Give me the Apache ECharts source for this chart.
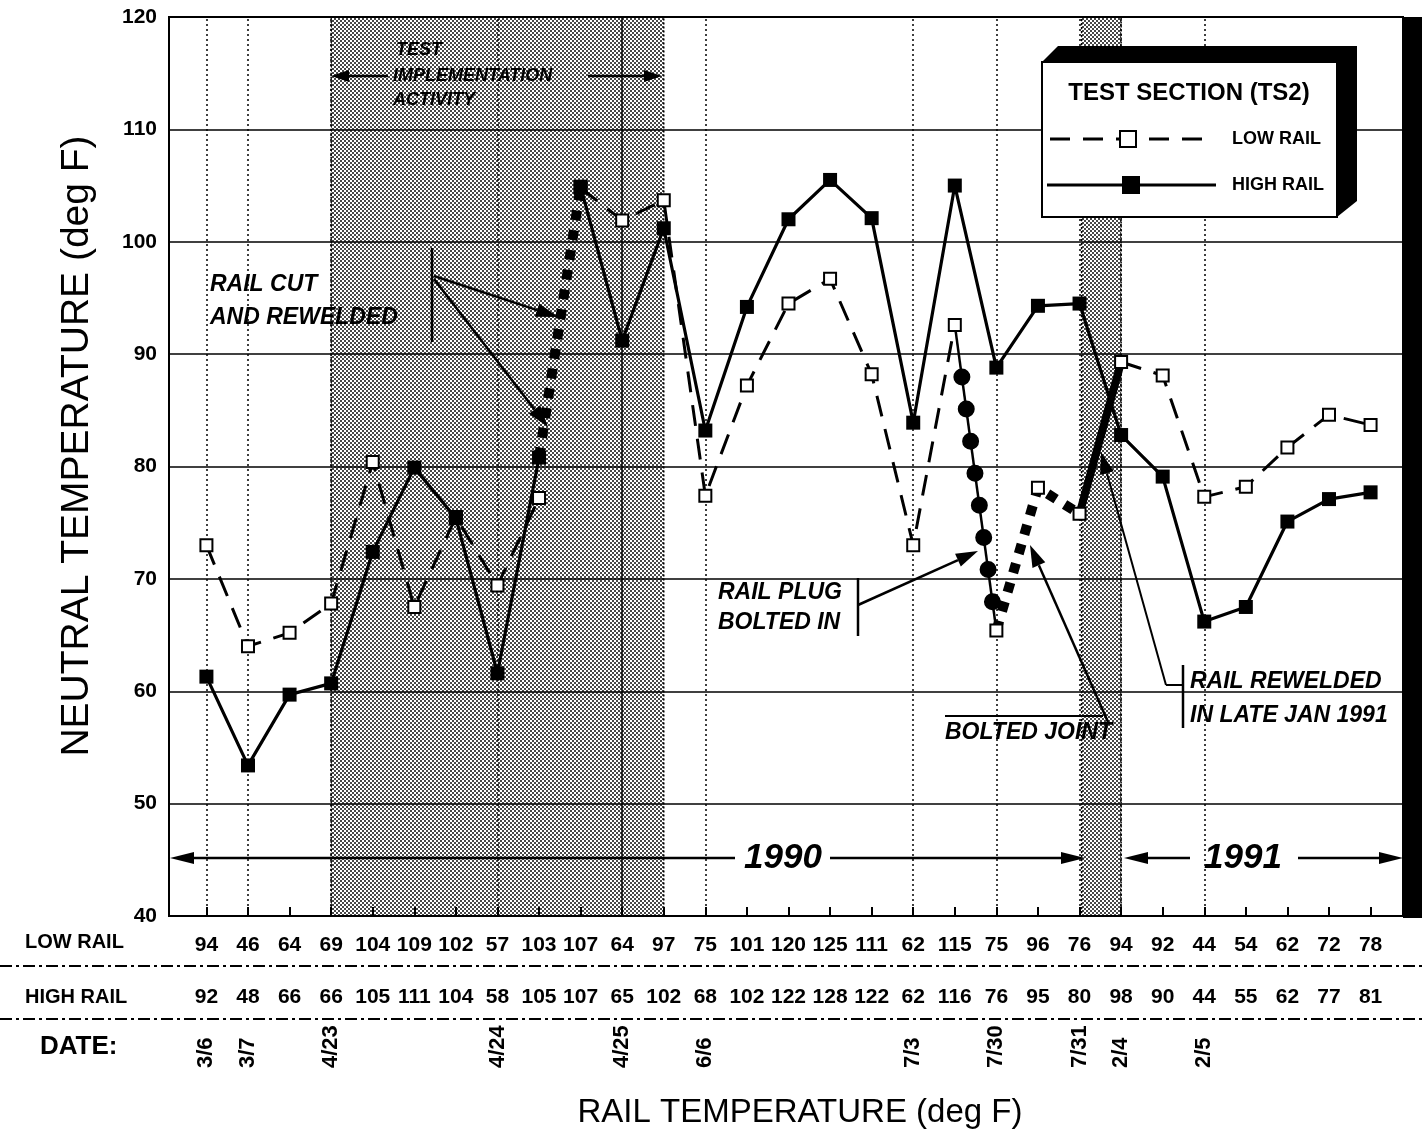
<!DOCTYPE html>
<html>
<head>
<meta charset="utf-8">
<script src="https://cdn.jsdelivr.net/npm/echarts@6/dist/echarts.min.js"></script>
<style>
  html, body { margin: 0; padding: 0; background: #fff; }
  #chart { width: 1422px; height: 1141px; }
</style>
</head>
<body>
<div id="chart"></div>
<script>
// Rail temperature (deg F) at each reading, printed under the plot
const lowRailTemp  = [94, 46, 64, 69, 104, 109, 102, 57, 103, 107, 64, 97, 75, 101, 120, 125, 111, 62, 115, 75, 96, 76, 94, 92, 44, 54, 62, 72, 78];
const highRailTemp = [92, 48, 66, 66, 105, 111, 104, 58, 105, 107, 65, 102, 68, 102, 122, 128, 122, 62, 116, 76, 95, 80, 98, 90, 44, 55, 62, 77, 81];

// Neutral temperature (deg F) at each reading
const lowRailNeutral  = [73.0, 64.0, 65.2, 67.8, 80.4, 67.5, 75.5, 69.4, 77.2, 104.8, 101.9, 103.7, 77.4, 87.2, 94.5, 96.7, 88.2, 73.0, 92.6, 65.4, 78.1, 75.8, 89.3, 88.1, 77.3, 78.2, 81.7, 84.6, 83.7];
const highRailNeutral = [61.3, 53.4, 59.7, 60.7, 72.4, 79.9, 75.4, 61.6, 80.8, 104.9, 91.2, 101.2, 83.2, 94.2, 102.0, 105.5, 102.1, 83.9, 105.0, 88.8, 94.3, 94.5, 82.8, 79.1, 66.2, 67.5, 75.1, 77.1, 77.7];

// Test dates and the reading each one starts at (readings are numbered from 1)
const dateLabels = ['3/6', '3/7', '4/23', '4/24', '4/25', '6/6', '7/3', '7/30', '7/31', '2/4', '2/5'];
const dateIndex  = [1, 2, 4, 8, 11, 13, 18, 20, 22, 23, 25];

// Event spans, in reading numbers
const testActivitySpan = [4, 12];
const reweldWindow     = [22.05, 23];
const railCutSpan      = [9, 10];   // high rail, cut and rewelded
const plugSpan         = [19, 20];  // low rail, plug bolted in
const jointSpan        = [20, 22];  // low rail, bolted joint
const reweldSpan       = [22, 23];  // low rail, rewelded Jan 1991

const readingNo = lowRailTemp.map((_, k) => k + 1);
const pts = (vals, a, b) => { const out = []; for (let i = a; i <= b; i++) out.push([i, vals[i - 1]]); return out; };

const FONT = '"Liberation Sans", Arial, Helvetica, sans-serif';
const INK = '#000';

// fine halftone used for the shaded periods
const pat = document.createElement('canvas');
pat.width = 4; pat.height = 4;
const pc = pat.getContext('2d');
pc.fillStyle = 'rgba(0,0,0,0.72)';
pc.fillRect(0, 0, 2, 2);
pc.fillRect(2, 2, 2, 2);

const chart = echarts.init(document.getElementById('chart'), null, { renderer: 'canvas' });

const line = (name, data, style, z) => ({
  name, type: 'line', data, showSymbol: false, silent: true, animation: false, z: z || 3,
  lineStyle: Object.assign({ color: INK, width: 3 }, style)
});

const dashed = { type: [21, 13], width: 3 };
const diamonds = { type: [10, 10], width: 10, cap: 'butt' };

const option = {
  animation: false,
  backgroundColor: '#fff',
  grid: { left: 169, right: 19, top: 17, bottom: 225, show: true, borderColor: INK, borderWidth: 2, backgroundColor: '#fff' },
  xAxis: {
    type: 'value', min: 0.1, max: 29.78,
    axisLine: { show: true, lineStyle: { color: INK, width: 2 } },
    axisTick: { show: true, inside: true, length: 9, customValues: readingNo, lineStyle: { color: INK, width: 2 } },
    axisLabel: { show: false },
    splitLine: { show: false }
  },
  yAxis: {
    type: 'value', min: 40, max: 120, interval: 10,
    axisLine: { show: true, lineStyle: { color: INK, width: 2 } },
    axisTick: { show: false },
    axisLabel: { color: INK, fontWeight: 'bold', fontSize: 21, fontFamily: FONT, margin: 12 },
    splitLine: { show: true, lineStyle: { color: INK, width: 1.5 } }
  },
  series: [
    {
      name: 'periods', type: 'line', data: [[1, 40]], symbol: 'none', silent: true, z: 1,
      lineStyle: { width: 0 },
      markArea: {
        silent: true,
        itemStyle: { color: { image: pat, repeat: 'repeat' }, borderColor: INK, borderWidth: 1.5, borderType: [2, 2] },
        data: [
          [{ xAxis: testActivitySpan[0] }, { xAxis: testActivitySpan[1] }],
          [{ xAxis: reweldWindow[0] }, { xAxis: reweldWindow[1] }]
        ]
      },
      markLine: {
        silent: true, symbol: 'none', label: { show: false }, animation: false,
        lineStyle: { color: INK, width: 1.5, type: [2, 3] },
        data: dateIndex.map(i => i === 11 ? { xAxis: i, lineStyle: { type: 'solid', width: 1.5 } } : { xAxis: i })
      }
    },
    // low rail, dashed stretches
    line('lowA', pts(lowRailNeutral, 1, 9), dashed),
    line('lowB', pts(lowRailNeutral, 10, 19), dashed),
    line('lowC', pts(lowRailNeutral, 23, 29), dashed),
    // plug bolted in: thin line with large dots
    line('plug', pts(lowRailNeutral, plugSpan[0], plugSpan[1]), { width: 2.5 }),
    line('plugDots', pts(lowRailNeutral, plugSpan[0], plugSpan[1]),
      { width: 17, cap: 'round', type: [0, 32.4, 0, 32.4, 0, 32.4, 0, 32.4, 0, 32.4, 0, 32.4, 0, 32.4, 0, 200], dashOffset: 374.3 }, 4),
    // bolted joint
    line('joint', pts(lowRailNeutral, jointSpan[0], jointSpan[1]), diamonds),
    // rewelded
    line('reweld', pts(lowRailNeutral, reweldSpan[0], reweldSpan[1]), { width: 8 }),
    // high rail
    line('highA', pts(highRailNeutral, 1, railCutSpan[0]), { width: 3.2 }),
    line('highB', pts(highRailNeutral, railCutSpan[1], 29), { width: 3.2 }),
    line('railCut', pts(highRailNeutral, railCutSpan[0], railCutSpan[1]), diamonds),
    // markers
    {
      name: 'LOW RAIL', type: 'line', data: pts(lowRailNeutral, 1, 29), silent: true, z: 6,
      lineStyle: { width: 0, opacity: 0 }, symbol: 'rect', symbolSize: 12, showSymbol: true,
      itemStyle: { color: '#fff', borderColor: INK, borderWidth: 2 }
    },
    {
      name: 'HIGH RAIL', type: 'line', data: pts(highRailNeutral, 1, 29), silent: true, z: 7,
      lineStyle: { width: 0, opacity: 0 }, symbol: 'rect', symbolSize: 14, showSymbol: true,
      itemStyle: { color: INK, borderColor: INK, borderWidth: 0 }
    }
  ]
};

chart.setOption(option);

// ---------- overlay: titles, table, legend, annotations ----------
const px = i => chart.convertToPixel({ gridIndex: 0 }, [i, 40])[0];
const g = [];
const txt = (text, x, y, font, extra) => g.push(Object.assign({
  type: 'text', x, y, z: 100, silent: true,
  style: Object.assign({ text, font, fill: INK, align: 'left', verticalAlign: 'middle' }, extra || {})
}));
const seg = (x1, y1, x2, y2, w, dash) => g.push({
  type: 'line', z: 100, silent: true, shape: { x1, y1, x2, y2 },
  style: { stroke: INK, lineWidth: w || 2, lineDash: dash || null }
});
const arrow = (x1, y1, x2, y2, len, half, w) => {
  len = len || 22; half = half || 7;
  const a = Math.atan2(y2 - y1, x2 - x1);
  const bx = x2 - len * Math.cos(a), by = y2 - len * Math.sin(a);
  seg(x1, y1, bx, by, w || 2.5);
  g.push({ type: 'polygon', z: 100, silent: true,
    shape: { points: [[x2, y2], [bx + half * Math.sin(a), by - half * Math.cos(a)], [bx - half * Math.sin(a), by + half * Math.cos(a)]] },
    style: { fill: INK } });
};

const bold = s => 'bold ' + s + 'px ' + FONT;
const boldIt = s => 'italic bold ' + s + 'px ' + FONT;

// axis titles
txt('NEUTRAL TEMPERATURE (deg F)', 77, 446, '39px ' + FONT, { align: 'center' });
g[g.length - 1].rotation = Math.PI / 2;
txt('RAIL TEMPERATURE (deg F)', 800, 1113, '33px ' + FONT, { align: 'center' });

// right-hand shadow of the plot frame
g.push({ type: 'rect', z: 100, silent: true, shape: { x: 1403, y: 17, width: 19, height: 901 }, style: { fill: INK } });

// rail temperature table
const lowY = 945, highY = 997, dateY = 1068;
txt('LOW RAIL', 25, 942, bold(20));
txt('HIGH RAIL', 25, 997, bold(20));
txt('DATE:', 40, 1047, bold(26));
readingNo.forEach((i, k) => {
  txt(String(lowRailTemp[k]), px(i), lowY, bold(21), { align: 'center' });
  txt(String(highRailTemp[k]), px(i), highY, bold(21), { align: 'center' });
});
dateIndex.forEach((i, k) => {
  txt(dateLabels[k], px(i), dateY, bold(22), { align: 'left' });
  g[g.length - 1].rotation = Math.PI / 2;
});
seg(0, 966, 1422, 966, 2, [12, 4, 3, 4]);
seg(0, 1019, 1422, 1019, 2, [12, 4, 3, 4]);

// year arrows
const yy = 858;
arrow(735, yy, 170, yy, 24, 6, 2.5);
txt('1990', 783, yy, boldIt(35), { align: 'center' });
arrow(830, yy, 1085, yy, 24, 6, 2.5);
arrow(1190, yy, 1124, yy, 24, 6, 2.5);
txt('1991', 1243, yy, boldIt(35), { align: 'center' });
arrow(1298, yy, 1403, yy, 24, 6, 2.5);

// test implementation activity
txt('TEST', 396, 50, boldIt(18));
txt('IMPLEMENTATION', 393, 76, boldIt(18));
txt('ACTIVITY', 393, 100, boldIt(18));
arrow(388, 76, 331, 76, 18, 6, 2.5);
arrow(588, 76, 662, 76, 18, 6, 2.5);

// rail cut and rewelded
txt('RAIL CUT', 210, 285, boldIt(23));
txt('AND REWELDED', 210, 318, boldIt(23));
seg(432, 248, 432, 342, 2.5);
arrow(434, 276, 558, 317, 22, 7, 2.5);
arrow(434, 279, 548, 427, 22, 7, 2.5);

// rail plug bolted in
txt('RAIL PLUG', 718, 593, boldIt(23));
txt('BOLTED IN', 718, 623, boldIt(23));
seg(858, 578, 858, 636, 2.5);
arrow(858, 605, 978, 551, 22, 7, 2.5);

// bolted joint
txt('BOLTED JOINT', 945, 733, boldIt(23));
seg(945, 716, 1103, 716, 2);
arrow(1108, 722, 1030, 545, 22, 7, 2.5);

// rail rewelded in late Jan 1991
txt('RAIL REWELDED', 1190, 682, boldIt(23));
txt('IN LATE JAN 1991', 1190, 716, boldIt(23));
seg(1183, 665, 1183, 728, 2.5);
seg(1183, 685, 1166, 685, 2);
arrow(1166, 685, 1101, 452, 22, 7, 2);

// legend box with extruded shadow
g.push({ type: 'polygon', z: 100, silent: true,
  shape: { points: [[1042, 62], [1058, 46], [1357, 46], [1357, 201], [1337, 217], [1337, 62]] },
  style: { fill: INK } });
g.push({ type: 'rect', z: 101, silent: true, shape: { x: 1042, y: 62, width: 295, height: 155 },
  style: { fill: '#fff', stroke: INK, lineWidth: 2 } });
g.push({ type: 'text', x: 1189, y: 93, z: 102, silent: true,
  style: { text: 'TEST SECTION (TS2)', font: bold(24), fill: INK, align: 'center', verticalAlign: 'middle' } });
g.push({ type: 'line', z: 102, silent: true, shape: { x1: 1050, y1: 139, x2: 1203, y2: 139 },
  style: { stroke: INK, lineWidth: 3, lineDash: [20, 13] } });
g.push({ type: 'rect', z: 103, silent: true, shape: { x: 1120, y: 131, width: 16, height: 16 },
  style: { fill: '#fff', stroke: INK, lineWidth: 2 } });
g.push({ type: 'text', x: 1232, y: 139, z: 102, silent: true,
  style: { text: 'LOW RAIL', font: bold(18), fill: INK, align: 'left', verticalAlign: 'middle' } });
g.push({ type: 'line', z: 102, silent: true, shape: { x1: 1047, y1: 185, x2: 1216, y2: 185 },
  style: { stroke: INK, lineWidth: 3 } });
g.push({ type: 'rect', z: 103, silent: true, shape: { x: 1122, y: 176, width: 18, height: 18 },
  style: { fill: INK } });
g.push({ type: 'text', x: 1232, y: 185, z: 102, silent: true,
  style: { text: 'HIGH RAIL', font: bold(18), fill: INK, align: 'left', verticalAlign: 'middle' } });

chart.setOption({ graphic: { elements: g } });
</script>
</body>
</html>
